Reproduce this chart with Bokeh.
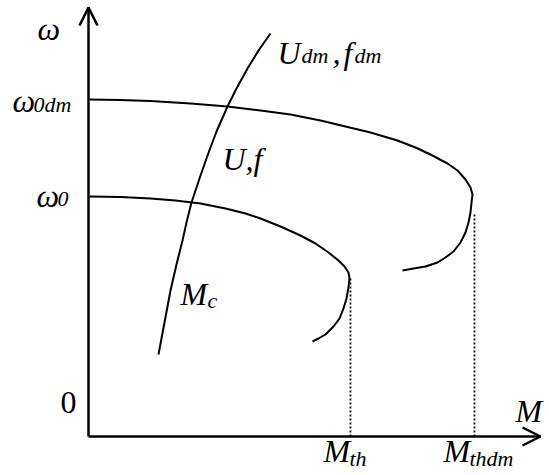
from bokeh.plotting import figure
from bokeh.models import Range1d
from bokeh.core.properties import value
from bokeh.embed import file_html
from bokeh.resources import INLINE

# Mechanical characteristics: torque M (x) vs. angular speed omega (y)
# Rated supply U, f
m_rated = [1, 32, 62, 87, 112, 137, 157, 172, 192, 212, 227, 240, 250, 256, 260,
           261, 260, 258, 255, 251, 245, 237, 230, 224]
w_rated = [240, 239.5, 238, 236, 233, 228, 223, 218, 210, 201, 193, 184, 176, 170, 164,
           158, 149, 138, 128, 118, 110, 102, 98, 95]

# Supply U_dm, f_dm
m_dm = [1, 32, 62, 102, 139, 172, 202, 232, 257, 282, 309, 327, 342, 359, 369, 377, 382, 384,
        383, 382, 380, 377, 372, 365, 357, 349, 337, 325, 314]
w_dm = [337, 336.5, 335.5, 333, 330, 326, 322, 316, 310, 304, 296, 289, 282, 273, 266, 257, 249, 242,
        234, 224, 214, 204, 194, 185, 179, 174, 170, 168, 166]

# Load torque characteristic M_c
m_load = [70, 76, 82, 88, 94, 98, 103, 111, 119, 128, 139, 148, 159, 170, 182]
w_load = [82, 114, 146, 172, 196, 214, 234, 258, 281, 305, 330, 348, 368, 386, 403]

# Breakdown torques and the speed of each breakdown point
m_break = [262, 386]
w_break = [159, 224]

# Axis extents
x_end, y_end = 452, 429

FONT = value("Liberation Serif")

p = figure(width=549, height=475, output_backend="svg", toolbar_location=None,
           x_range=Range1d(-88, 461), y_range=Range1d(-39, 436),
           min_border=0, outline_line_color=None)
p.axis.visible = False
p.grid.visible = False

# axes with open arrowheads
p.line([0, 0], [0, y_end], line_color="black", line_width=2.5)
p.line([0, x_end], [0, 0], line_color="black", line_width=2.5)
p.line([-9, 0, 9], [y_end - 18, y_end, y_end - 18], line_color="black", line_width=2.5)
p.line([x_end - 18, x_end, x_end - 18], [9, 0, -9], line_color="black", line_width=2.5)

# curves
for xs, ys in [(m_rated, w_rated), (m_dm, w_dm), (m_load, w_load)]:
    p.line(xs, ys, line_color="black", line_width=2, line_join="round")

# dotted projections of breakdown torque
for mb, wb in zip(m_break, w_break):
    p.line([mb, mb], [0, wb], line_color="black", line_width=1.8, line_dash="2 2")

MAIN, SUB = "32px", "22px"

def label(x, y, txt, size=MAIN, style="italic"):
    p.text(x=[x], y=[y + 10], text=[txt], text_font=FONT, text_font_size=size,
           text_font_style=style, text_color="black",
           text_baseline="alphabetic", text_align="left")

label(-51, 398, "ω")
label(-76, 326, "ω")
label(-55, 322, "0dm", SUB)
label(-52, 231, "ω")
label(-31, 228, "0", SUB)
label(-28, 24, "0", style="normal")
label(134, 268, "U,f")
label(189, 374, "U")
label(213, 371, "dm", SUB)
label(244, 374, ",")
label(255, 374, "f")
label(266, 371, "dm", SUB)
label(92, 133, "M")
label(119, 126, "c", SUB)
label(235, -24, "M")
label(261, -32, "th", SUB)
label(355, -24, "M")
label(381, -32, "thdm", SUB)
label(427, 16, "M")

open("out.html", "w").write(file_html(p, INLINE))
